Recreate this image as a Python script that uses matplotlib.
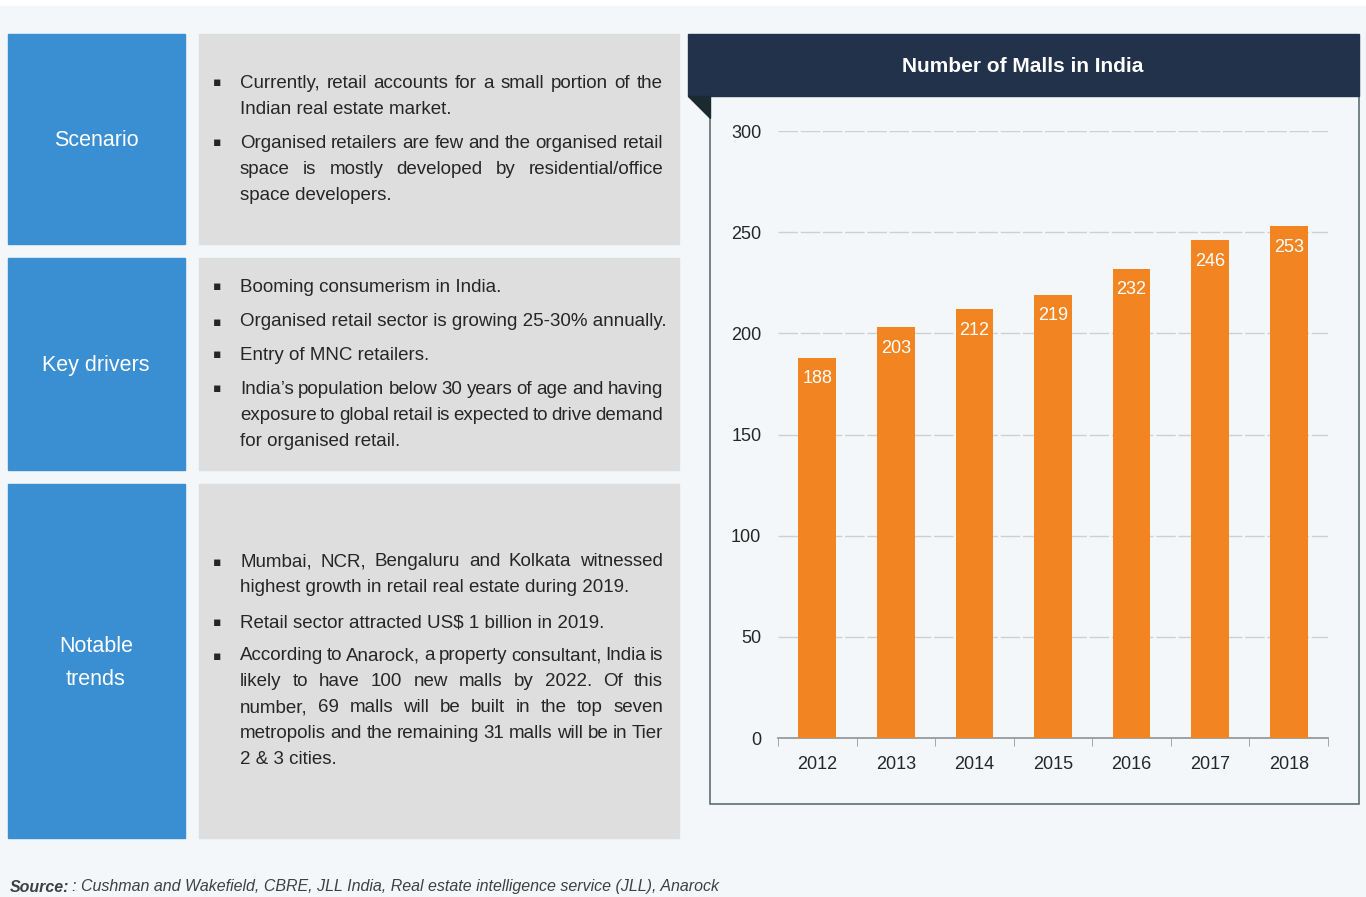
import matplotlib
matplotlib.use("Agg")
import matplotlib.pyplot as plt
from matplotlib.patches import Rectangle, Polygon
from matplotlib import font_manager

# data
years = ['2012', '2013', '2014', '2015', '2016', '2017', '2018']
malls = [188, 203, 212, 219, 232, 246, 253]
y_ticks = [0, 50, 100, 150, 200, 250, 300]

section_titles = ['Scenario', 'Key drivers', 'Notable\ntrends']
scenario_lines = [
    ("Currently, retail accounts for a small portion of the", True, True),
    ("Indian real estate market.", False, False),
    ("Organised retailers are few and the organised retail", True, True),
    ("space is mostly developed by residential/office", False, True),
    ("space developers.", False, False),
]
drivers_lines = [
    ("Booming consumerism in India.", True, False),
    ("Organised retail sector is growing 25-30% annually.", True, False),
    ("Entry of MNC retailers.", True, False),
    ("India\u2019s population below 30 years of age and having", True, True),
    ("exposure to global retail is expected to drive demand", False, True),
    ("for organised retail.", False, False),
]
trends_lines = [
    ("Mumbai, NCR, Bengaluru and Kolkata witnessed", True, True),
    ("highest growth in retail real estate during 2019.", False, False),
    ("Retail sector attracted US$ 1 billion in 2019.", True, False),
    ("According to Anarock, a property consultant, India is", True, True),
    ("likely to have 100 new malls by 2022. Of this", False, True),
    ("number, 69 malls will be built in the top seven", False, True),
    ("metropolis and the remaining 31 malls will be in Tier", False, True),
    ("2 & 3 cities.", False, False),
]
source_text = ': Cushman and Wakefield, CBRE, JLL India, Real estate intelligence service (JLL), Anarock'

names = {f.name for f in font_manager.fontManager.ttflist}
body_font = ['Liberation Sans Narrow'] if 'Liberation Sans Narrow' in names else ['Liberation Sans']
body_font = body_font + ['DejaVu Sans']

W, H = 1366, 897
BG = '#F4F7F9'
BLUE = '#3A8ED2'
GREY = '#DEDEDE'
NAVY = '#22324A'
ORANGE = '#F28522'
TXT = '#262626'

fig = plt.figure(figsize=(W / 100, H / 100), dpi=100)
fig.patch.set_facecolor('white')

bg = fig.add_axes([0, 0, 1, 1])
bg.set_xlim(0, W)
bg.set_ylim(H, 0)
bg.axis('off')

bg.add_patch(Rectangle((0, 6), W, H - 6, color=BG, zorder=0))

# left boxes
rows = [(34, 244), (258, 470), (484, 838)]
for (y0, y1), title in zip(rows, section_titles):
    bg.add_patch(Rectangle((8, y0), 177, y1 - y0, color=BLUE, zorder=1))
    bg.add_patch(Rectangle((199, y0), 480, y1 - y0, color=GREY, zorder=1))
    bg.text(96, (y0 + y1) / 2 + 2, title, color='white', fontsize=15.5, ha='center', va='center',
            family=body_font, linespacing=1.75)

renderer = fig.canvas.get_renderer()
x_left, x_right = 240, 663


def draw_line(text, y, bullet, justify):
    if bullet:
        bg.text(217, y, '\u25aa', color=TXT, fontsize=9, ha='center', va='center', family=['DejaVu Sans'])
    if not justify:
        bg.text(x_left, y, text, color=TXT, fontsize=13.5, ha='left', va='center', family=body_font)
        return
    words = text.split(' ')
    objs = []
    widths = []
    for w in words:
        t = bg.text(0, y, w, color=TXT, fontsize=13.5, ha='left', va='center', family=body_font)
        objs.append(t)
        widths.append(t.get_window_extent(renderer).width)
    gap = (x_right - x_left - sum(widths)) / (len(words) - 1)
    x = x_left
    for t, w in zip(objs, widths):
        t.set_x(x)
        x += w + gap


def draw_block(lines, ys):
    for (text, bullet, justify), y in zip(lines, ys):
        draw_line(text, y, bullet, justify)


draw_block(scenario_lines, [83, 109, 143, 169, 195])
draw_block(drivers_lines, [287, 322, 355, 389, 415, 441])
draw_block(trends_lines, [562, 588, 623, 656, 682, 708, 733, 759])

# chart panel
bg.add_patch(Rectangle((710, 96), 649, 708, facecolor=BG, edgecolor='#5E6E75', lw=1.2, zorder=1))
bg.add_patch(Rectangle((688, 34), 671, 62, color=NAVY, zorder=2))
bg.add_patch(Polygon([(688, 96), (710, 96), (710, 118)], closed=True, color='#1B2A30', zorder=2))
bg.text(1023, 66, 'Number of Malls in India', color='white', fontsize=15, fontweight='bold',
        ha='center', va='center', family=body_font)

# source
src = bg.text(10, 887, 'Source:', color='#404040', fontsize=11.5, fontweight='bold', style='italic',
              ha='left', va='center', family=body_font)
sw = src.get_window_extent(renderer).width
bg.text(10 + sw + 3, 887, source_text, color='#404040', fontsize=11.5, style='italic',
        ha='left', va='center', family=body_font)

# bar chart
ax = fig.add_axes([778 / W, 1 - 738 / H, 550 / W, (738 - 131) / H])
ax.patch.set_alpha(0)
x = list(range(len(years)))
bars = ax.bar(x, malls, width=0.48, color=ORANGE, zorder=3)
for b, v in zip(bars, malls):
    ax.annotate(str(v), (b.get_x() + b.get_width() / 2, v), xytext=(0, -21), textcoords='offset pixels',
                ha='center', va='center', color='white', fontsize=13, family=body_font)
ax.set_xlim(-0.5, len(years) - 0.5)
ax.set_ylim(0, 300)
ax.set_yticks(y_ticks)
ax.set_yticklabels([str(t) for t in y_ticks], family=body_font, fontsize=13, color=TXT)
ax.tick_params(axis='y', length=0, pad=12)
ax.set_xticks(x)
ax.set_xticklabels(years, family=body_font, fontsize=13, color=TXT)
ax.set_xticks([i - 0.5 for i in range(len(years) + 1)], minor=True)
ax.tick_params(axis='x', which='major', length=0, pad=13)
ax.tick_params(axis='x', which='minor', length=6, color='#999999', direction='out')
for v in y_ticks[1:]:
    ax.axhline(v, color='#CFCFCF', lw=1, ls=(0, (14, 2)), zorder=1)
for s in ['top', 'right', 'left']:
    ax.spines[s].set_visible(False)
ax.spines['bottom'].set_color('#999999')
ax.spines['bottom'].set_linewidth(1.3)

fig.savefig('out.png', dpi=100)
